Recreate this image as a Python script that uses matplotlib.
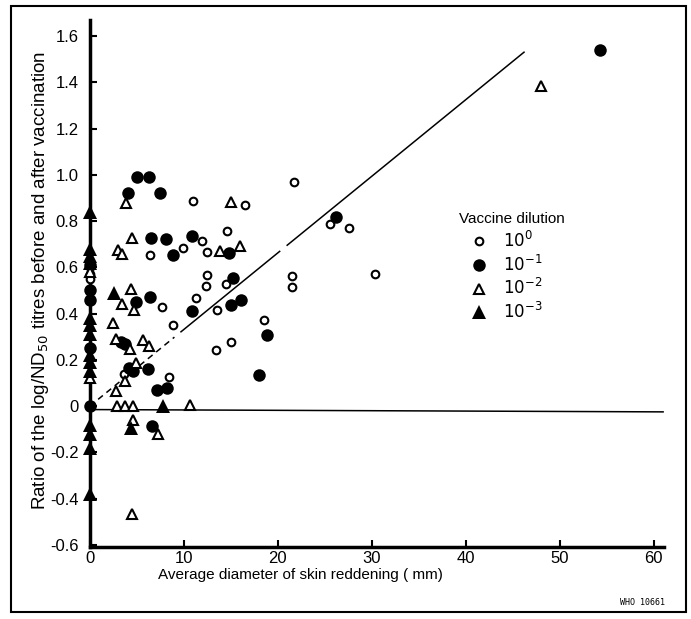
import matplotlib
matplotlib.use("Agg")
import matplotlib.pyplot as plt
from matplotlib.lines import Line2D
from matplotlib.patches import Rectangle

plt.rcParams['font.family'] = ['Liberation Sans', 'DejaVu Sans']

# 10^0 dilution (open circles)
d0_x = [11.0, 16.5, 21.7, 11.9, 9.9, 12.5, 14.6, 25.6, 27.6, 12.5, 12.4, 14.5, 21.5, 21.5,
        11.3, 13.5, 18.5, 13.4, 15.0, 6.4, 7.7, 8.9, 3.6, 8.4, 30.3, 0, 0]
d0_y = [0.886, 0.870, 0.968, 0.714, 0.684, 0.665, 0.759, 0.788, 0.768, 0.567, 0.520, 0.527, 0.561, 0.516,
        0.467, 0.415, 0.372, 0.241, 0.278, 0.655, 0.43, 0.35, 0.14, 0.125, 0.57, 0.57, 0.55]

# 10^-1 dilution (filled circles)
d1_x = [5.0, 6.3, 4.1, 7.5, 6.5, 8.1, 10.9, 8.9, 14.8, 26.2, 15.2, 10.9, 15.0, 16.1, 18.9, 18.0,
        4.9, 6.4, 3.3, 3.7, 4.2, 4.6, 6.2, 7.2, 8.2, 6.6, 54.3, 0, 0, 0, 0, 0]
d1_y = [0.99, 0.99, 0.92, 0.92, 0.727, 0.723, 0.734, 0.655, 0.662, 0.817, 0.552, 0.412, 0.439, 0.458, 0.309, 0.136,
        0.45, 0.473, 0.279, 0.27, 0.166, 0.152, 0.159, 0.07, 0.08, -0.085, 1.54, 0.61, 0.50, 0.46, 0.25, 0.0]

# 10^-2 dilution (open triangles)
d2_x = [15.0, 13.9, 16.0, 10.7, 3.9, 4.5, 3.0, 3.4, 4.4, 3.4, 4.7, 2.5, 2.8, 4.3, 5.7, 6.3, 4.9,
        3.7, 2.8, 2.9, 3.7, 4.6, 4.6, 7.3, 4.5, 48.0, 0, 0]
d2_y = [0.882, 0.669, 0.690, 0.004, 0.88, 0.727, 0.675, 0.658, 0.507, 0.441, 0.415, 0.36, 0.29, 0.246, 0.285, 0.26, 0.188,
        0.108, 0.065, 0.0, 0.0, 0.0, -0.06, -0.12, -0.465, 1.385, 0.58, 0.12]

# 10^-3 dilution (filled triangles)
d3_x = [2.6, 4.4, 7.8, 0, 0, 0, 0, 0, 0, 0, 0, 0, 0, 0, 0, 0, 0]
d3_y = [0.487, -0.094, 0.0, 0.84, 0.68, 0.65, 0.62, 0.38, 0.35, 0.31, 0.22, 0.19, 0.15,
        -0.08, -0.12, -0.18, -0.38]

# fitted line (through origin)
line_x = [0, 46.2]
line_y = [0, 1.53]

fig = plt.figure(figsize=(6.91, 6.19), dpi=100)
ax = fig.add_axes([0.130, 0.116, 0.831, 0.852])

styles = [
    dict(marker='o', ms=5.5, mfc='white', mec='black', mew=1.5),
    dict(marker='o', ms=9, mfc='black', mec='black', mew=0),
    dict(marker='^', ms=6.5, mfc='white', mec='black', mew=1.5),
    dict(marker='^', ms=9.5, mfc='black', mec='black', mew=0),
]
series = [(d0_x, d0_y), (d1_x, d1_y), (d2_x, d2_y), (d3_x, d3_y)]
for (xs, ys), st in zip(series, styles):
    ax.plot(xs, ys, ls='none', clip_on=False, zorder=3, **st)

# regression line, broken in places like the original print
slope = line_y[1] / line_x[1]
for x0, x1, ls in [(0, 9.0, (0, (4, 3))), (9.7, 20.2, '-'), (21.0, line_x[1], '-')]:
    ax.plot([x0, x1], [slope * x0, slope * x1], color='black', lw=1.1, ls=ls)

ax.plot([0, 61], [-0.015, -0.025], color='black', lw=1.1)

ax.set_xlim(0, 61.1)
ax.set_ylim(-0.61, 1.67)
ax.spines['top'].set_visible(False)
ax.spines['right'].set_visible(False)
ax.spines['left'].set_linewidth(2.5)
ax.spines['bottom'].set_linewidth(2.5)
ax.set_xticks([0, 10, 20, 30, 40, 50, 60])
ax.set_yticks([-0.6, -0.4, -0.2, 0, 0.2, 0.4, 0.6, 0.8, 1.0, 1.2, 1.4, 1.6])
ax.set_yticklabels(['-0.6', '-0.4', '-0.2', '0', '0.2', '0.4', '0.6', '0.8', '1.0', '1.2', '1.4', '1.6'])
ax.tick_params(direction='in', length=5, width=1.5, labelsize=12)
ax.tick_params(axis='y', pad=8)
ax.tick_params(axis='x', pad=3)

ax.set_xlabel('Average diameter of skin reddening ( mm)', fontsize=11)
ax.xaxis.set_label_coords(0.366, -0.04)
ax.set_ylabel('Ratio of the log/ND$_{50}$ titres before and after vaccination', fontsize=13.5)
ax.yaxis.set_label_coords(-0.068, 0.505)

labels = ['$10^{0}$', '$10^{-1}$', '$10^{-2}$', '$10^{-3}$']
handles = [Line2D([], [], ls='none', **st) for st in styles]
leg = ax.legend(handles, labels, title='Vaccine dilution', frameon=False, fontsize=12,
                title_fontsize=11, loc='upper left', bbox_to_anchor=(0.655, 0.668),
                bbox_transform=fig.transFigure, handlelength=2.4, handletextpad=0.2,
                labelspacing=0.22, alignment='left', borderaxespad=0)
for h in leg.legend_handles:
    h.set_clip_on(False)

fig.text(0.962, 0.022, 'WHO 10661', fontsize=6, ha='right', family='DejaVu Sans Mono')
fig.patches.append(Rectangle((0.016, 0.011), 0.977, 0.980, transform=fig.transFigure,
                             fill=False, lw=1.5, ec='black'))

fig.savefig('out.png', dpi=100)
